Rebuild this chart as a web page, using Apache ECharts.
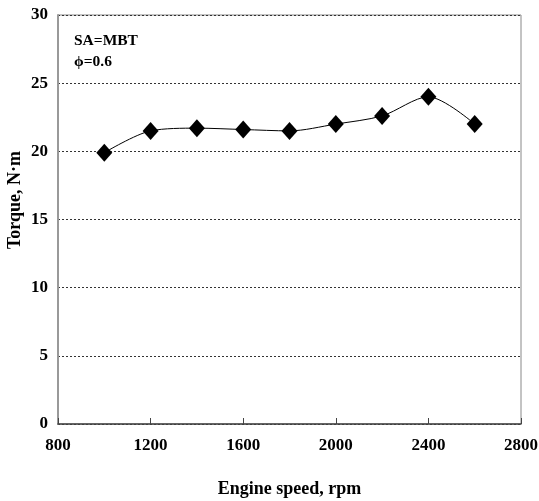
<!DOCTYPE html>
<html><head><meta charset="utf-8">
<script src="https://cdn.jsdelivr.net/npm/echarts@6/dist/echarts.min.js"></script>
<style>html,body{margin:0;padding:0;background:#fff}#c{width:539px;height:501px}</style>
</head><body><div id="c"></div>
<script>
var speeds = [1000, 1200, 1400, 1600, 1800, 2000, 2200, 2400, 2600];
var torque = [19.9, 21.5, 21.7, 21.6, 21.5, 22.0, 22.6, 24.0, 22.0];
var xTicks = [800, 1200, 1600, 2000, 2400, 2800];
var yTicks = [0, 5, 10, 15, 20, 25, 30];
var xName = 'Engine speed, rpm';
var yName = 'Torque, N\u00b7m';
var notes = ['SA=MBT', '\u03d5=0.6'];

var font = '"Liberation Serif", "DejaVu Serif", serif';
var chart = echarts.init(document.getElementById('c'));
chart.setOption({
  animation: false,
  grid: {left: 58, right: 18, top: 15, bottom: 77, outerBoundsMode: 'none', containLabel: false,
         show: true, borderColor: '#888', borderWidth: 1, backgroundColor: 'transparent'},
  xAxis: {
    type: 'value', min: xTicks[0], max: xTicks[xTicks.length - 1], interval: 400,
    name: xName, nameLocation: 'middle', nameGap: 56,
    nameTextStyle: {fontFamily: font, fontWeight: 'bold', fontSize: 18, color: '#000'},
    axisLine: {show: true, lineStyle: {color: '#444', width: 1.5}},
    axisTick: {show: true, inside: true, length: 6, lineStyle: {color: '#444'}},
    axisLabel: {fontFamily: font, fontWeight: 'bold', fontSize: 17, color: '#000', margin: 13,
                formatter: function (v) { return String(v); }},
    splitLine: {show: false}
  },
  yAxis: {
    type: 'value', min: yTicks[0], max: yTicks[yTicks.length - 1], interval: 5,
    axisLine: {show: true, lineStyle: {color: '#999', width: 2}},
    axisTick: {show: false},
    axisLabel: {fontFamily: font, fontWeight: 'bold', fontSize: 17, color: '#000', margin: 10,
                formatter: function (v) { return String(v); }},
    splitLine: {show: true, lineStyle: {color: '#333', type: [2, 2], width: 1}}
  },
  graphic: [
    {type: 'text', x: 15, y: 200, rotation: Math.PI / 2,
     style: {text: yName, font: 'bold 18px ' + font, fill: '#000', align: 'center', verticalAlign: 'middle'}},
    {type: 'text', left: 74, top: 33, style: {text: notes[0], font: 'bold 15.5px ' + font, fill: '#000'}},
    {type: 'text', left: 74, top: 54, style: {text: notes[1], font: 'bold 15.5px ' + font, fill: '#000'}}
  ],
  series: [{
    type: 'line', smooth: 0.3,
    data: speeds.map(function (s, i) { return [s, torque[i]]; }),
    symbol: 'diamond', symbolSize: [16, 18],
    itemStyle: {color: '#000'},
    lineStyle: {color: '#000', width: 1}
  }]
});
</script></body></html>
